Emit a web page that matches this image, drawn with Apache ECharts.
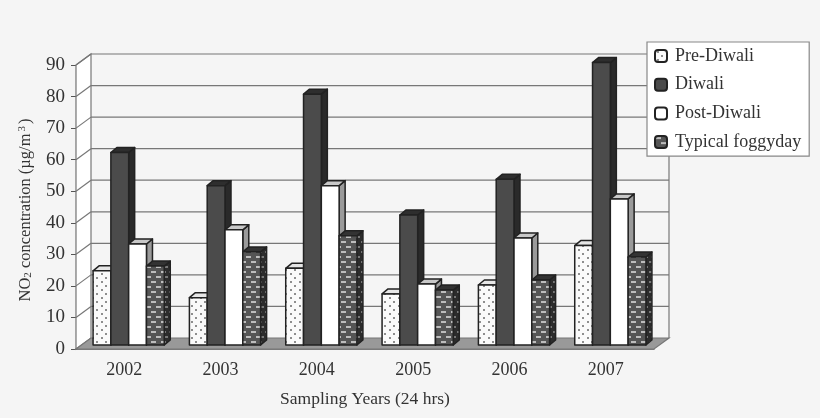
<!DOCTYPE html>
<html><head><meta charset="utf-8">
<style>html,body{margin:0;padding:0;background:#f5f5f5}#c{width:820px;height:418px}</style>
<script src="https://cdn.jsdelivr.net/npm/echarts@6/dist/echarts.min.js"></script>
</head><body><div id="c"></div>
<script>
const years = ['2002','2003','2004','2005','2006','2007'];
const preDiwali = [23.5,15,24.3,16.2,19,31.5];
const diwali = [61,50.5,79.5,41.2,52.5,89.5];
const postDiwali = [32,36.5,50.5,19.3,33.9,46.3];
const typicalFoggyday = [25,29.5,34.6,17.4,20.6,27.9];
const yTicks = [0,10,20,30,40,50,60,70,80,90];

const FONT = '"Liberation Serif", serif';
function tile(w,h,bg,draw){
  const c=document.createElement('canvas');c.width=w;c.height=h;
  const x=c.getContext('2d');x.fillStyle=bg;x.fillRect(0,0,w,h);draw(x);
  return {image:c,repeat:'repeat'};
}
const dots = tile(9,8,'#fafafa',x=>{x.fillStyle='#8e8e8e';
  x.fillRect(2,1,2,2);x.fillRect(6,5,2,2);});
const brick = tile(10,10,'#555',x=>{x.fillStyle='#bdbdbd';
  x.fillRect(1,1,5,2);x.fillRect(6,6,4,2);x.fillRect(0,6,1,2);});
const brickDark = tile(6,10,'#2c2c2c',x=>{x.fillStyle='#777';x.fillRect(1,1,3,2);x.fillRect(3,6,3,2);});

const barW=17.8, depthX=6, depthY=5, shiftX=4.5, shiftY=4;
const wallX=15, wallY=11;

function barSeries(name,values,idx,front,top,side){
  return {
    name,type:'custom',coordinateSystem:'cartesian2d',z:5+idx,
    itemStyle:{color:front,borderColor:'#222',borderWidth:1},
    data:values.map((v,i)=>[i,v]),
    encode:{x:0,y:1},
    renderItem(params,api){
      const p=api.coord([api.value(0),api.value(1)]);
      const b=api.coord([api.value(0),0]);
      const x0=p[0]+shiftX+(idx-2)*barW, x1=x0+barW;
      const y0=p[1]-shiftY, y1=b[1]-shiftY;
      const line={stroke:'#222',lineWidth:1.5,lineJoin:'round'};
      return {type:'group',children:[
        {type:'polygon',shape:{points:[[x1,y0],[x1+depthX,y0-depthY],[x1+depthX,y1-depthY],[x1,y1]]},style:{fill:side,...line}},
        {type:'polygon',shape:{points:[[x0,y0],[x0+depthX,y0-depthY],[x1+depthX,y0-depthY],[x1,y0]]},style:{fill:top,...line}},
        {type:'rect',shape:{x:x0,y:y0,width:barW,height:y1-y0},style:{fill:front,...line}}
      ]};
    }
  };
}

const wallSeries={
  type:'custom',coordinateSystem:'cartesian2d',z:1,silent:true,legendHoverLink:false,
  data:yTicks.map(t=>[0,t]),
  encode:{x:0,y:1},
  renderItem(params,api){
    const t=api.value(1);
    const p=api.coord([0,t]);
    const size=api.size([1,0])[0];
    const L=p[0]-size/2, R=L+size*years.length;
    const y=p[1];
    const grid='#777';
    const o0=api.coord([0,0])[1], o90=api.coord([0,yTicks[yTicks.length-1]])[1];
    const kids=[];
    if(t===0){
      kids.push({type:'polygon',z2:0,shape:{points:[[L,o90],[L+wallX,o90-wallY],[L+wallX,o0-wallY],[L,o0]]},style:{fill:'#fff',stroke:grid,lineWidth:1.2}});
      kids.push({type:'polygon',z2:1,shape:{points:[[L,o0],[L+wallX,o0-wallY],[R+wallX,o0-wallY],[R,o0]]},style:{fill:'#999',stroke:grid,lineWidth:1.2}});
      kids.push({type:'line',z2:1,shape:{x1:R+wallX,y1:o90-wallY,x2:R+wallX,y2:o0-wallY},style:{stroke:grid,lineWidth:1.2}});
    } else {
      kids.push({type:'line',z2:2,shape:{x1:L,y1:y,x2:L+wallX,y2:y-wallY},style:{stroke:grid,lineWidth:1.2}});
      kids.push({type:'line',z2:2,shape:{x1:L+wallX,y1:y-wallY,x2:R+wallX,y2:y-wallY},style:{stroke:grid,lineWidth:1.2}});
    }
    return {type:'group',children:kids};
  }
};

const chart=echarts.init(document.getElementById('c'),null,{renderer:'canvas'});
chart.setOption({
  animation:false,
  backgroundColor:'#f5f5f5',
  textStyle:{fontFamily:FONT,color:'#333'},
  grid:{left:76,right:166,top:65,bottom:69,containLabel:false},
  legend:{
    orient:'vertical',left:647,top:42,
    data:['Pre-Diwali','Diwali','Post-Diwali','Typical foggyday'],
    backgroundColor:'#fff',borderColor:'#888',borderWidth:1.2,borderRadius:0,
    padding:[5,8,5,7],itemGap:10.7,itemWidth:12,itemHeight:12,
    selectedMode:false,
    textStyle:{fontFamily:FONT,fontSize:18,color:'#333',padding:[0,0,0,3]}
  },
  xAxis:{
    type:'category',data:years,
    axisLine:{show:true,lineStyle:{color:'#555',width:1.5}},
    axisTick:{show:false},
    axisLabel:{fontFamily:FONT,fontSize:18,color:'#333',margin:12},
    name:'Sampling Years (24 hrs)',nameLocation:'middle',nameGap:41,
    nameTextStyle:{fontFamily:FONT,fontSize:17.5,color:'#333'},
    splitLine:{show:false}
  },
  yAxis:{
    type:'value',min:0,max:90,interval:10,
    axisLine:{show:true,lineStyle:{color:'#777',width:1.2}},
    axisTick:{show:true,length:5,lineStyle:{color:'#555'}},
    axisLabel:{fontFamily:FONT,fontSize:19,color:'#333',margin:11},
    splitLine:{show:false},
    name:'{n|NO}{s|2}{n| concentration (µg/m}{u|3}{n|)}',
    nameLocation:'middle',nameGap:42,nameRotate:90,
    nameTextStyle:{padding:[0,6,0,0],rich:{
      n:{fontFamily:FONT,fontSize:16.5,color:'#333'},
      s:{fontFamily:FONT,fontSize:11,color:'#333',verticalAlign:'bottom',lineHeight:12,padding:[6,0,0,0]},
      u:{fontFamily:FONT,fontSize:11,color:'#333',verticalAlign:'top',lineHeight:12,padding:[0,2,6,2]}
    }}
  },
  series:[
    wallSeries,
    barSeries('Pre-Diwali',preDiwali,0,dots,'#e6e6e6',dots),
    barSeries('Diwali',diwali,1,'#4b4b4b','#2e2e2e','#2a2a2a'),
    barSeries('Post-Diwali',postDiwali,2,'#ffffff','#c8c8c8','#9a9a9a'),
    barSeries('Typical foggyday',typicalFoggyday,3,brick,'#333',brickDark)
  ]
});
</script></body></html>
